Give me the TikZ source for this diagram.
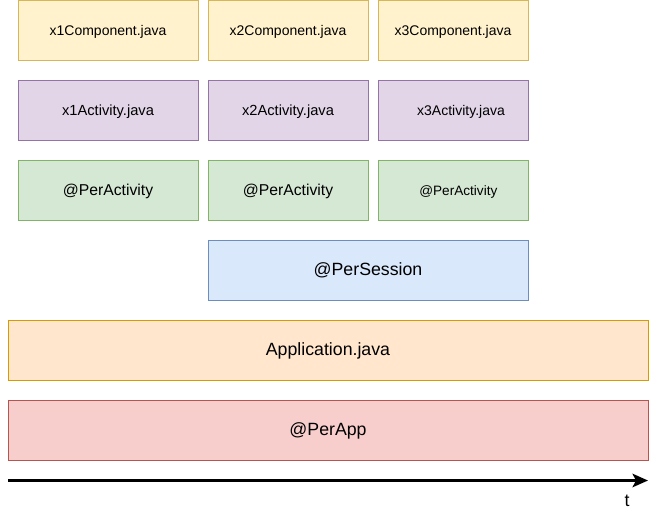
\documentclass[tikz,border=0pt]{standalone}
\usepackage{fontspec}
\setmainfont{Liberation Sans}
\usetikzlibrary{arrows.meta}

\definecolor{compFill}{HTML}{FFF2CC}
\definecolor{compLine}{HTML}{D6B656}
\definecolor{actFill}{HTML}{E1D5E7}
\definecolor{actLine}{HTML}{9673A6}
\definecolor{scopeFill}{HTML}{D5E8D4}
\definecolor{scopeLine}{HTML}{82B366}
\definecolor{sessFill}{HTML}{DAE8FC}
\definecolor{sessLine}{HTML}{6C8EBF}
\definecolor{appFill}{HTML}{FFE6CC}
\definecolor{appLine}{HTML}{D79B00}
\definecolor{perAppFill}{HTML}{F8CECC}
\definecolor{perAppLine}{HTML}{B85450}

\def\BoxH{45pt}
\def\NarrowW{135pt}
\def\MidW{120pt}
\def\SmallW{112.5pt}
\def\WideW{480pt}

\tikzset{
    box/.style={draw, line width=0.75pt, inner sep=0pt, minimum height=\BoxH,
        text height=0.86em, text depth=0pt},
    compbox/.style={box, fill=compFill, draw=compLine},
    actbox/.style={box, fill=actFill, draw=actLine},
    scopebox/.style={box, fill=scopeFill, draw=scopeLine},
    sessbox/.style={box, fill=sessFill, draw=sessLine},
    appbox/.style={box, fill=appFill, draw=appLine},
    perappbox/.style={box, fill=perAppFill, draw=perAppLine},
    boxtxt/.style={inner sep=0pt, text height=0.86em, text depth=0pt},
    smalltxt/.style={font=\fontsize{10.5pt}{12pt}\selectfont},
    midtxt/.style={font=\fontsize{11pt}{13pt}\selectfont},
    scopetxt/.style={font=\fontsize{11.8pt}{14pt}\selectfont},
    bigtxt/.style={font=\fontsize{13.3pt}{16pt}\selectfont}
}

\begin{document}
\begin{tikzpicture}[x=0.75pt,y=-0.75pt]

% Page background
\fill[white] (0,0) rectangle (658,511);
\useasboundingbox (0,0) rectangle (658,511);

% =====================================================
% COMPONENTS
% =====================================================
\node[compbox, smalltxt, minimum width=\NarrowW] (comp1) at (108,30) {x1Component.java};
\node[compbox, smalltxt, minimum width=\MidW] (comp2) at (288,30) {x2Component.java};
\node[compbox, smalltxt, minimum width=\SmallW] (comp3) at (453,30) {x3Component.java};

% =====================================================
% ACTIVITIES
% =====================================================
\node[actbox, midtxt, minimum width=\NarrowW] (act1) at (108,110) {x1Activity.java};
\node[actbox, midtxt, minimum width=\MidW] (act2) at (288,110) {x2Activity.java};
\node[actbox, minimum width=\SmallW,
    label={[boxtxt, smalltxt, xshift=6pt]center:x3Activity.java}] (act3) at (453,110) {};

% =====================================================
% ACTIVITY SCOPES
% =====================================================
\node[scopebox, scopetxt, minimum width=\NarrowW] (scope1) at (108,190) {@PerActivity};
\node[scopebox, scopetxt, minimum width=\MidW] (scope2) at (288,190) {@PerActivity};
\node[scopebox, minimum width=\SmallW,
    label={[boxtxt, font=\fontsize{10.2pt}{12pt}\selectfont, xshift=4pt]center:@PerActivity}] (scope3) at (453,190) {};

% =====================================================
% SESSION AND APPLICATION
% =====================================================
\node[sessbox, bigtxt, minimum width=240pt] (session) at (368,270) {@PerSession};
\node[appbox, bigtxt, minimum width=\WideW] (app) at (328,350) {Application.java};
\node[perappbox, bigtxt, minimum width=\WideW] (perapp) at (328,430) {@PerApp};

% =====================================================
% TIME AXIS
% =====================================================
\coordinate (tstart) at (8,480.5);
\coordinate (tend) at (648,480.5);
\draw[line width=2.25pt, -{Stealth[length=11.5pt,width=10pt,inset=2.5pt]}] (tstart) -- (tend);
\node[bigtxt] (tlabel) at (627,500.5) {t};

\end{tikzpicture}
\end{document}
